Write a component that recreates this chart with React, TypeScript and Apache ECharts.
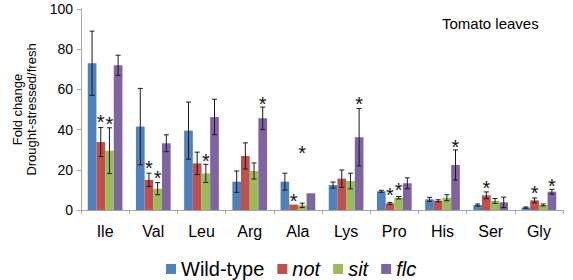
import React, { useEffect, useRef } from "react";
import * as echarts from "echarts";

const categories = ["Ile", "Val", "Leu", "Arg", "Ala", "Lys", "Pro", "His", "Ser", "Gly"];
const seriesNames = ["Wild-type", "not", "sit", "flc"];
const colors = ["#4F81BD", "#C0504D", "#9BBB59", "#8064A2"];

const wildType = [73, 41.5, 39.5, 14.1, 14.1, 12.4, 9.3, 5.3, 2.5, 1.2];
const wildTypeErr = [16, 19, 14.2, 5.3, 4.2, 1.5, 0.5, 1, 0.5, 0.3];
const notVals = [33.8, 15, 23.2, 26.9, 2.7, 15.6, 3.3, 4.6, 7.3, 4.8];
const notErr = [7.2, 3.3, 5.6, 6.5, 0, 4.3, 0.5, 0.5, 1.7, 1.2];
const sitVals = [29.5, 10.6, 18.2, 19.4, 2.3, 14.4, 6.1, 6.1, 4.5, 2.5];
const sitErr = [11.4, 3, 4.5, 4, 1.1, 3.9, 0.6, 1.5, 1.2, 0.5];
const flcVals = [72, 33.2, 46.3, 45.6, 8.3, 36.2, 13.3, 22.4, 3.8, 9.1];
const flcErr = [5, 4.2, 8.8, 5.6, 0, 14.3, 2.7, 7.5, 2.6, 1.2];

// star (significance mark) heights, null = none
const wildTypeStars = [null, null, null, null, null, null, null, null, null, null];
const notStars = [46.4, 23.2, null, null, 7.1, null, 10, null, 13.6, 10.8];
const sitStars = [45.3, 18.2, 26.9, null, 30.7, null, 12.3, null, null, null];
const flcStars = [null, null, null, 55.2, null, 55.2, null, 34, null, 14.6];

const allVals = [wildType, notVals, sitVals, flcVals];
const allErr = [wildTypeErr, notErr, sitErr, flcErr];
const allStars = [wildTypeStars, notStars, sitStars, flcStars];

const FONT = "Liberation Sans, Arial, sans-serif";
const CAT_GAP = 0.28;

export default function App() {
  const ref = useRef<HTMLDivElement>(null);
  useEffect(() => {
    if (!ref.current) return;
    const chart = echarts.init(ref.current, null, { renderer: "svg" });
    const series: any[] = [];
    seriesNames.forEach((name, si) => {
      series.push({
        name,
        type: "bar",
        data: allVals[si],
        itemStyle: { color: colors[si] },
        barGap: "0%",
        barCategoryGap: CAT_GAP * 100 + "%",
      });
    });
    seriesNames.forEach((name, si) => {
      series.push({
        type: "custom",
        name: name + "-err",
        z: 5,
        silent: true,
        data: categories.map((_, i) => [i, allVals[si][i], allErr[si][i]]),
        encode: { x: 0, y: 1 },
        renderItem: (params: any, api: any) => {
          const idx = api.value(0);
          const mean = api.value(1);
          const err = api.value(2);
          const band = api.size([1, 0])[0];
          const group = band * (1 - CAT_GAP);
          const bw = group / 4;
          const off = -group / 2 + bw * (si + 0.5);
          const children: any[] = [];
          const style = { stroke: "#1a1a1a", lineWidth: 1 };
          if (err > 0) {
            const top = api.coord([idx, mean + err]);
            const bot = api.coord([idx, mean - err]);
            const x = top[0] + off;
            const cw = 2.5;
            children.push({ type: "line", shape: { x1: x, y1: top[1], x2: x, y2: bot[1] }, style });
            children.push({ type: "line", shape: { x1: x - cw, y1: top[1], x2: x + cw, y2: top[1] }, style });
            children.push({ type: "line", shape: { x1: x - cw, y1: bot[1], x2: x + cw, y2: bot[1] }, style });
          }
          const sv = allStars[si][params.dataIndex];
          if (sv !== null && sv !== undefined) {
            const p = api.coord([idx, sv]);
            children.push({
              type: "text",
              x: p[0] + off,
              y: p[1] + 5,
              style: {
                text: "*",
                fill: "#111",
                font: "20px " + FONT,
                align: "center",
                verticalAlign: "middle",
              },
            });
          }
          return { type: "group", children };
        },
      });
    });

    chart.setOption({
      animation: false,
      title: {
        text: "Tomato leaves",
        left: 437,
        top: 11,
        textStyle: { fontSize: 15, fontWeight: "normal", color: "#000", fontFamily: FONT },
      },
      legend: {
        data: seriesNames.map((n, i) => ({
          name: n,
          textStyle: i === 0 ? {} : { fontStyle: "italic" },
        })),
        left: 161,
        top: 254,
        icon: "rect",
        itemWidth: 10,
        itemHeight: 10,
        itemGap: 13,
        textStyle: { fontSize: 20, color: "#000", fontFamily: FONT },
      },
      grid: { left: 81, right: 10, top: 9, bottom: 70 },
      xAxis: {
        type: "category",
        data: categories,
        axisLine: { lineStyle: { color: "#A6A6A6" } },
        axisTick: { show: true, length: 4, lineStyle: { color: "#A6A6A6" } },
        axisLabel: { fontSize: 16, color: "#000", fontFamily: FONT, margin: 13 },
      },
      yAxis: {
        type: "value",
        min: 0,
        max: 100,
        interval: 20,
        name: "Fold change\nDrought-stressed/fresh",
        nameLocation: "middle",
        nameRotate: 90,
        nameGap: 41,
        nameTextStyle: { fontSize: 13, color: "#000", fontFamily: FONT, lineHeight: 14 },
        axisLine: { show: true, lineStyle: { color: "#A6A6A6" } },
        axisTick: { show: true, length: 4, lineStyle: { color: "#A6A6A6" } },
        splitLine: { show: false },
        axisLabel: { fontSize: 14, color: "#000", fontFamily: FONT, margin: 8 },
      },
      series,
    });
    return () => chart.dispose();
  }, []);
  return <div ref={ref} style={{ width: 573, height: 280, position: "absolute", left: 0, top: 0 }} />;
}
